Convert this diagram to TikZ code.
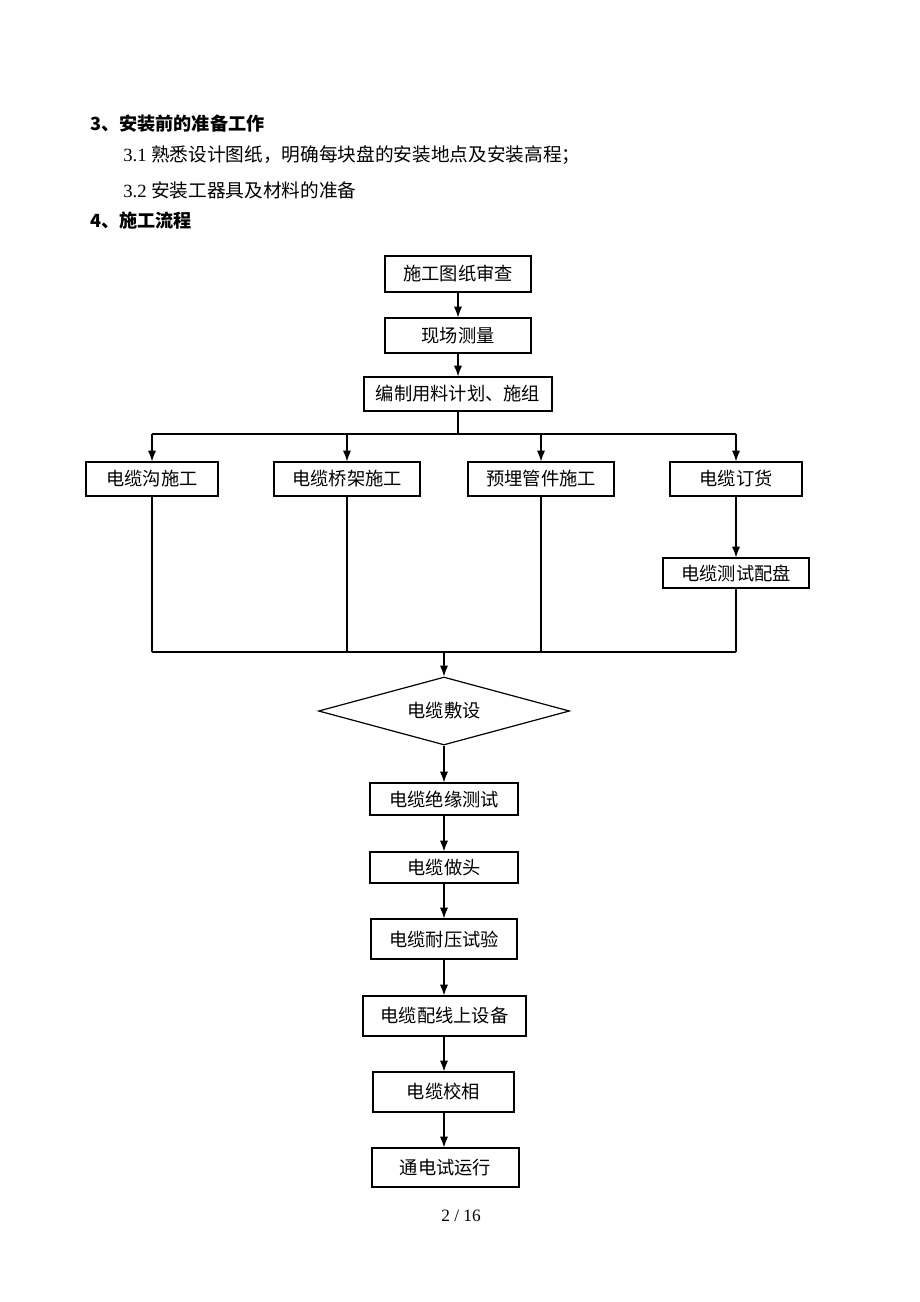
\documentclass[tikz,border=0pt]{standalone}
\usepackage{fontspec}
\setmainfont{Liberation Serif}
\newfontfamily\cjk{Noto Sans CJK SC}
\usetikzlibrary{shapes.geometric,arrows.meta}
\tikzset{
  box/.style={draw, line width=0.9pt, inner sep=0pt, font=\cjk\fontsize{13.7}{15}\selectfont},
  arr/.style={line width=0.8pt, -{Latex[length=8pt,width=6pt]}},
  ln/.style={line width=0.8pt},
  txt/.style={anchor=west, inner sep=0pt, font=\fontsize{14}{16}\selectfont},
  htxt/.style={anchor=west, inner sep=0pt, font=\cjk\bfseries\fontsize{13.6}{16}\selectfont},
}
\begin{document}
\begin{tikzpicture}[x=0.75pt,y=-0.75pt]
\useasboundingbox (0,0) rectangle (920,1302);
% heading texts
\node[htxt] (h3) at (90,124) {3、安装前的准备工作};
\node[txt] (t31) at (123,155) {3.1 {\cjk 熟悉设计图纸，明确每块盘的安装地点及安装高程；}};
\node[txt] (t32) at (123,190) {3.2 {\cjk 安装工器具及材料的准备}};
\node[htxt] (h4) at (90,221) {4、施工流程};
% boxes
\node[box, minimum width=109.5pt, minimum height=27pt] (b1) at (458,274) {施工图纸审查};
\node[box, minimum width=109.5pt, minimum height=26.25pt] (b2) at (458,335.5) {现场测量};
\node[box, minimum width=141pt, minimum height=25.5pt] (b3) at (458,394) {编制用料计划、施组};
\node[box, minimum width=99pt, minimum height=25.5pt] (a) at (152,479) {电缆沟施工};
\node[box, minimum width=109.5pt, minimum height=25.5pt] (b) at (347,479) {电缆桥架施工};
\node[box, minimum width=109.5pt, minimum height=25.5pt] (c) at (541,479) {预埋管件施工};
\node[box, minimum width=99pt, minimum height=25.5pt] (d) at (736,479) {电缆订货};
\node[box, minimum width=109.5pt, minimum height=22.5pt] (e) at (736,573) {电缆测试配盘};
\node[box, diamond, aspect=3.7, minimum width=188.25pt, minimum height=51pt] (dia) at (444,711) {电缆敷设};
\node[box, minimum width=111pt, minimum height=24pt] (f) at (444,799) {电缆绝缘测试};
\node[box, minimum width=111pt, minimum height=23.25pt] (g) at (444,867.5) {电缆做头};
\node[box, minimum width=109.5pt, minimum height=30pt] (h) at (444,939) {电缆耐压试验};
\node[box, minimum width=122.25pt, minimum height=30pt] (i) at (444.5,1016) {电缆配线上设备};
\node[box, minimum width=105.75pt, minimum height=30pt] (j) at (443.5,1092) {电缆校相};
\node[box, minimum width=110.25pt, minimum height=29.25pt] (k) at (445.5,1167.5) {通电试运行};
% bus coordinates
\coordinate (busT) at (458,434);
\coordinate (busB) at (444,652);
% connectors top
\draw[arr] (b1) -- (b2);
\draw[arr] (b2) -- (b3);
\draw[ln] (b3.south) -- (busT);
\draw[ln] (a |- busT) -- (d |- busT);
\draw[arr] (a |- busT) -- (a.north);
\draw[arr] (b |- busT) -- (b.north);
\draw[arr] (c |- busT) -- (c.north);
\draw[arr] (d |- busT) -- (d.north);
\draw[arr] (d.south) -- (e.north);
% bottom bus
\draw[ln] (a.south) -- (a |- busB);
\draw[ln] (b.south) -- (b |- busB);
\draw[ln] (c.south) -- (c |- busB);
\draw[ln] (e.south) -- (e |- busB);
\draw[ln] (a |- busB) -- (e |- busB);
\draw[arr] (busB) -- (dia.north);
% lower chain
\draw[arr] (dia.south) -- (dia.south |- f.north);
\draw[arr] (dia.south |- f.south) -- (dia.south |- g.north);
\draw[arr] (dia.south |- g.south) -- (dia.south |- h.north);
\draw[arr] (dia.south |- h.south) -- (dia.south |- i.north);
\draw[arr] (dia.south |- i.south) -- (dia.south |- j.north);
\draw[arr] (dia.south |- j.south) -- (dia.south |- k.north);
% page number
\node[inner sep=0pt, font=\fontsize{13}{15}\selectfont] (pg) at (461,1216) {2 / 16};
\end{tikzpicture}
\end{document}
